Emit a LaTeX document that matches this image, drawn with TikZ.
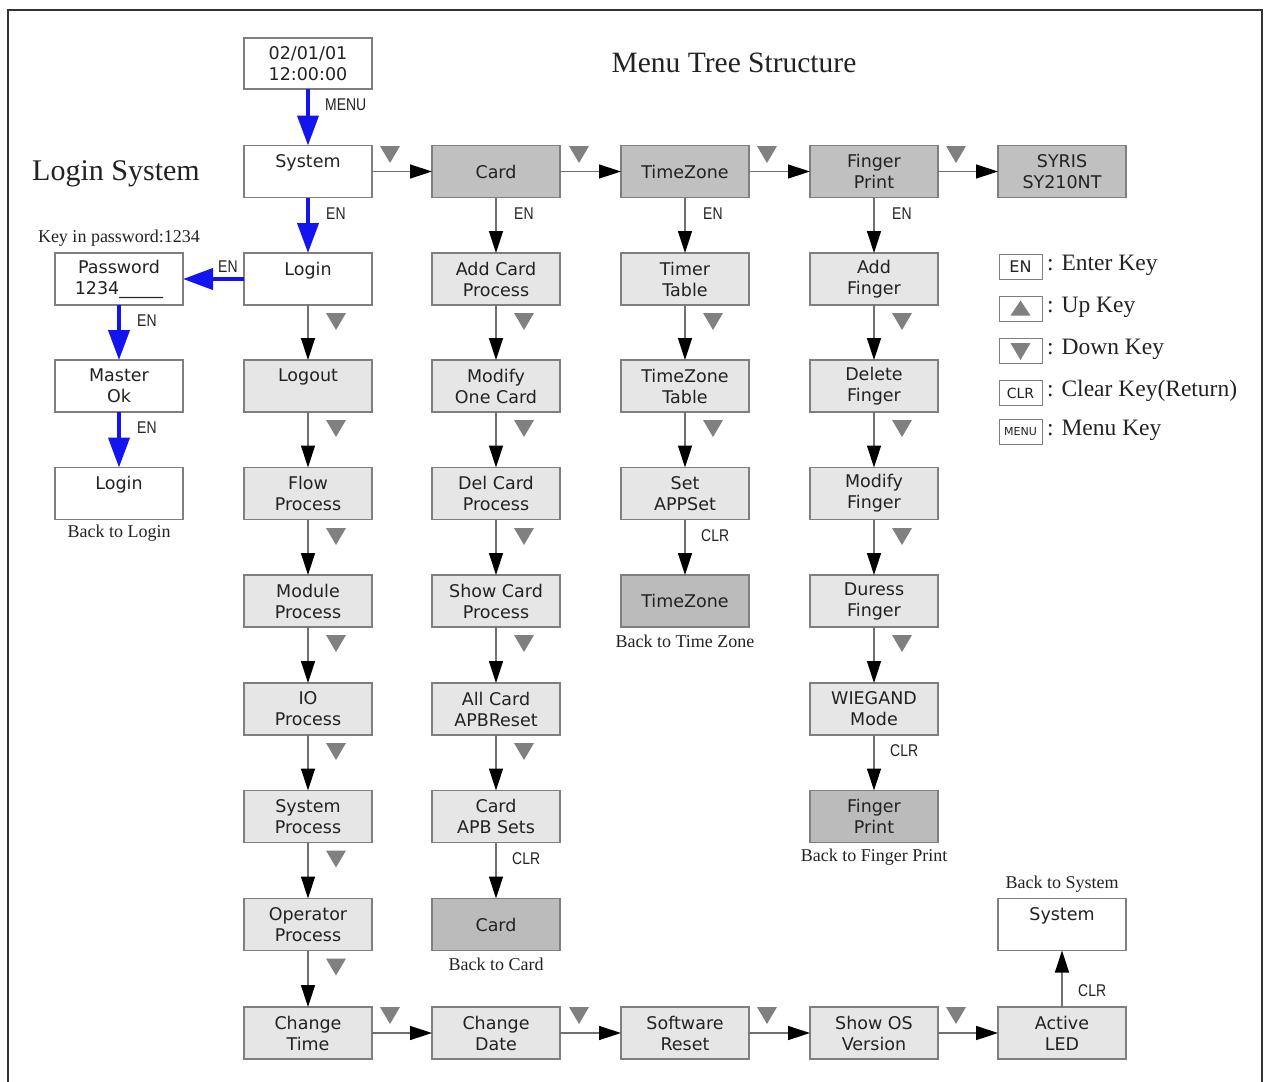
\documentclass[tikz,border=0pt]{standalone}
\usepackage{fontspec}
\setmainfont{Liberation Serif}
\newfontfamily\bxf{DejaVu Sans}
\newfontfamily\labf[FakeStretch=0.82]{Liberation Sans}
\usetikzlibrary{arrows.meta}
\definecolor{bordergray}{HTML}{7F7F7F}
\definecolor{lightfill}{HTML}{E6E6E6}
\definecolor{darkfill}{HTML}{C0C0C0}
\definecolor{backfill}{HTML}{BBBBBB}
\definecolor{keygray}{HTML}{808080}
\definecolor{linegray}{HTML}{707070}
\definecolor{keyblue}{RGB}{20,20,240}
\definecolor{txt}{HTML}{222222}
\tikzset{
  box/.style={draw=bordergray, line width=1.2pt, minimum width=128pt, minimum height=52pt,
    inner sep=0pt, outer sep=0pt, align=center, text=txt, font=\bxf\fontsize{17.5}{21}\selectfont},
  wbox/.style={box, fill=white},
  lbox/.style={box, fill=lightfill},
  dbox/.style={box, fill=darkfill},
  bbox/.style={box, fill=backfill},
  blk/.style={draw=linegray, line width=1.4pt, -{Triangle[length=22pt,width=14pt,color=black]}},
  blu/.style={draw=keyblue, line width=4pt, -{Triangle[length=30pt,width=21pt,color=keyblue]}},
  keylab/.style={anchor=west, inner sep=0pt, font=\labf\fontsize{17}{17}\selectfont, text=txt},
  note/.style={inner sep=0pt, font=\fontsize{18}{18}\selectfont, text=txt},
  legbox/.style={draw=bordergray, line width=1pt, fill=white, minimum width=43pt, minimum height=25pt, inner sep=0pt},
  legtext/.style={anchor=west, inner sep=0pt, font=\fontsize{23.5}{23.5}\selectfont, text=txt},
  downkey/.pic={\fill[keygray] (-10,-8) -- (10,-8) -- (0,9) -- cycle;},
  upkey/.pic={\fill[keygray] (-10,7) -- (10,7) -- (0,-8) -- cycle;}
}
\begin{document}
\begin{tikzpicture}[x=1pt,y=-1pt]
\useasboundingbox (0,0) rectangle (1265,1081);
\draw[line width=2.5pt, black!80] (8,10) rectangle (1262,1090);

% titles
\node[inner sep=0pt, font=\fontsize{29.5}{29.5}\selectfont, text=txt] (title) at (734,63) {Menu Tree Structure};
\node[inner sep=0pt, font=\fontsize{30}{30}\selectfont, text=txt] (logintitle) at (116,174) {Login System};

% column 1
\node[wbox, minimum height=51pt] (date) at (308,63.5) {02/01/01\\12:00:00};
\node[wbox] (sys) at (308,171.5) {System\\\mbox{}};
\node[wbox] (login) at (308,279) {Login\\\mbox{}};
\node[lbox] (logout) at (308,386) {Logout\\\mbox{}};
\node[lbox] (flow) at (308,493.5) {Flow\\Process};
\node[lbox] (module) at (308,601) {Module\\Process};
\node[lbox] (io) at (308,709) {IO\\Process};
\node[lbox] (sysproc) at (308,816.5) {System\\Process};
\node[lbox] (oper) at (308,924.5) {Operator\\Process};
\node[lbox] (ctime) at (308,1033) {Change\\Time};

% column 2
\node[dbox] (card) at (496,171.5) {Card};
\node[lbox] (addcard) at (496,279) {Add Card\\Process};
\node[lbox] (modcard) at (496,386) {Modify\\One Card};
\node[lbox] (delcard) at (496,493.5) {Del Card\\Process};
\node[lbox] (showcard) at (496,601) {Show Card\\Process};
\node[lbox] (allcard) at (496,709) {All Card\\APBReset};
\node[lbox] (apb) at (496,816.5) {Card\\APB Sets};
\node[bbox] (cardback) at (496,924.5) {Card};
\node[lbox] (cdate) at (496,1033) {Change\\Date};

% column 3
\node[dbox] (tz) at (685,171.5) {TimeZone};
\node[lbox] (timer) at (685,279) {Timer\\Table};
\node[lbox] (tztable) at (685,386) {TimeZone\\Table};
\node[lbox] (setapp) at (685,493.5) {Set\\APPSet};
\node[bbox] (tzback) at (685,601) {TimeZone};
\node[lbox] (swreset) at (685,1033) {Software\\Reset};

% column 4
\node[dbox] (fp) at (874,171.5) {Finger\\Print};
\node[lbox] (addf) at (874,279) {Add\\Finger};
\node[lbox] (delf) at (874,386) {Delete\\Finger};
\node[lbox] (modf) at (874,493.5) {Modify\\Finger};
\node[lbox] (duress) at (874,601) {Duress\\Finger};
\node[lbox] (wieg) at (874,709) {WIEGAND\\Mode};
\node[bbox] (fpback) at (874,816.5) {Finger\\Print};
\node[lbox] (showos) at (874,1033) {Show OS\\Version};

% column 5
\node[dbox] (syris) at (1062,171.5) {SYRIS\\SY210NT};
\node[wbox] (sysback) at (1062,924.5) {System\\\mbox{}};
\node[lbox] (led) at (1062,1033) {Active\\LED};

% login column
\node[wbox] (pwd) at (119,279) {Password\\1234\_\_\_\_\_};
\node[wbox] (master) at (119,386) {Master\\Ok};
\node[wbox] (loginb) at (119,493.5) {Login\\\mbox{}};

% notes
\node[note] (n1) at (119,238) {Key in password:1234};
\node[note] (n2) at (119,533) {Back to Login};
\node[note] (n3) at (685,641) {Back to Time Zone};
\node[note] (n4) at (874,857) {Back to Finger Print};
\node[note] (n5) at (496,964) {Back to Card};
\node[note] (n6) at (1062,884) {Back to System};

% blue arrows
\draw[blu] (date) -- (sys);
\node[keylab] (lmenu) at (325,105) {MENU};
\draw[blu] (sys) -- (login);
\node[keylab] (l1) at (326,213.5) {EN};
\draw[blu] (login.west) -- (pwd.east);
\node[keylab] (l2) at (218,267) {EN};
\draw[blu] (pwd) -- (master);
\node[keylab] (l3) at (137,321) {EN};
\draw[blu] (master) -- (loginb);
\node[keylab] (l4) at (137,428) {EN};

% top row
\draw[blk] (sys) -- (card);
\draw[blk] (card) -- (tz);
\draw[blk] (tz) -- (fp);
\draw[blk] (fp) -- (syris);
\foreach \x in {390,579,767,956} \pic at (\x,154) {downkey};

% enter arrows
\draw[blk] (card) -- (addcard);
\node[keylab] (l5) at (514,213.5) {EN};
\draw[blk] (tz) -- (timer);
\node[keylab] (l6) at (703,213.5) {EN};
\draw[blk] (fp) -- (addf);
\node[keylab] (l7) at (892,213.5) {EN};

% column 1 chain
\draw[blk] (login) -- (logout);
\draw[blk] (logout) -- (flow);
\draw[blk] (flow) -- (module);
\draw[blk] (module) -- (io);
\draw[blk] (io) -- (sysproc);
\draw[blk] (sysproc) -- (oper);
\draw[blk] (oper) -- (ctime);
\foreach \y in {321,428,536,643,751,858.5,966.5} \pic at (336,\y) {downkey};

% column 2 chain
\draw[blk] (addcard) -- (modcard);
\draw[blk] (modcard) -- (delcard);
\draw[blk] (delcard) -- (showcard);
\draw[blk] (showcard) -- (allcard);
\draw[blk] (allcard) -- (apb);
\foreach \y in {321,428,536,643,751} \pic at (524,\y) {downkey};
\draw[blk] (apb) -- (cardback);
\node[keylab] (l8) at (512,858.5) {CLR};

% column 3 chain
\draw[blk] (timer) -- (tztable);
\draw[blk] (tztable) -- (setapp);
\foreach \y in {321,428} \pic at (713,\y) {downkey};
\draw[blk] (setapp) -- (tzback);
\node[keylab] (l9) at (701,536) {CLR};

% column 4 chain
\draw[blk] (addf) -- (delf);
\draw[blk] (delf) -- (modf);
\draw[blk] (modf) -- (duress);
\draw[blk] (duress) -- (wieg);
\foreach \y in {321,428,536,643} \pic at (902,\y) {downkey};
\draw[blk] (wieg) -- (fpback);
\node[keylab] (l10) at (890,751) {CLR};

% bottom row
\draw[blk] (ctime) -- (cdate);
\draw[blk] (cdate) -- (swreset);
\draw[blk] (swreset) -- (showos);
\draw[blk] (showos) -- (led);
\foreach \x in {390,579,767,956} \pic at (\x,1015) {downkey};
\draw[blk] (led) -- (sysback);
\node[keylab] (l11) at (1078,991) {CLR};

% legend
\node[legbox, font=\bxf\fontsize{16}{16}\selectfont, text=txt] (kEN) at (1020.5,266.5) {EN};
\node[legtext] (tEN) at (1047,265) {: Enter Key};
\node[legbox] (kUP) at (1020.5,308.5) {};
\pic at (kUP) {upkey};
\node[legtext] (tUP) at (1047,307) {: Up Key};
\node[legbox] (kDN) at (1020.5,351) {};
\pic at (kDN) {downkey};
\node[legtext] (tDN) at (1047,349) {: Down Key};
\node[legbox, font=\bxf\fontsize{14}{14}\selectfont, text=txt] (kCLR) at (1020.5,393) {CLR};
\node[legtext] (tCLR) at (1047,391) {: Clear Key(Return)};
\node[legbox, font=\bxf\fontsize{11}{11}\selectfont, text=txt] (kMENU) at (1020.5,431.5) {MENU};
\node[legtext] (tMENU) at (1047,430) {: Menu Key};
\end{tikzpicture}
\end{document}
